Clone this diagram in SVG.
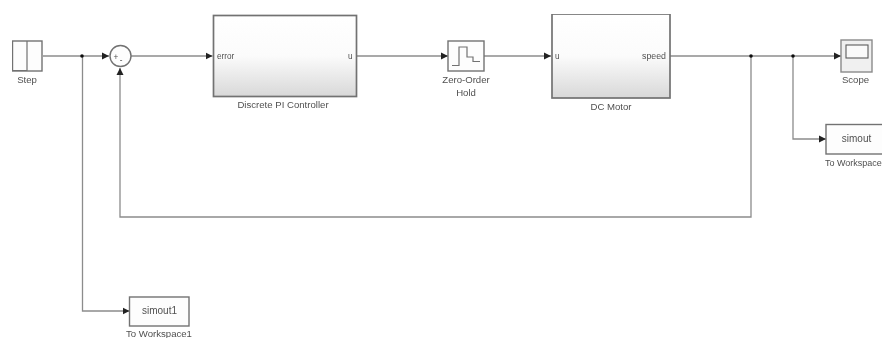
<svg xmlns="http://www.w3.org/2000/svg" width="882" height="338" viewBox="0 0 882 338">
<defs>
<linearGradient id="g" x1="0" y1="0" x2="0" y2="1"><stop offset="0" stop-color="#ffffff"/><stop offset="0.5" stop-color="#fbfbfb"/><stop offset="1" stop-color="#d8d8d8"/></linearGradient>
<marker id="a" markerUnits="userSpaceOnUse" markerWidth="8" markerHeight="8" refX="7" refY="4" orient="auto"><path d="M0,0.500 L7,4 L0,7.500 Z" fill="#222"/></marker>
<filter id="soft" x="0" y="0" width="1" height="1"><feGaussianBlur stdDeviation="0.5"/></filter>
</defs>
<style>
text{font-family:"Liberation Sans",Arial,sans-serif;font-size:9.6px;fill:#505050}
.p{font-size:8.2px}
.m{font-size:10px}
.n{font-size:9px}
.c{text-anchor:middle}
.w{fill:none;stroke:#8c8c8c;stroke-width:1.3}
.b{fill:#fdfdfd;stroke:#727272;stroke-width:1.4}
.s{fill:url(#g);stroke:#727272;stroke-width:1.7}
.i{fill:none;stroke:#727272;stroke-width:1.2}
.d{fill:#111}
</style>
<rect width="882" height="338" fill="#fff"/>
<g filter="url(#soft)">
<g id="connectors">
<path class="w" d="M43,56H109" marker-end="url(#a)"/>
<path class="w" d="M131,56H212.500" marker-end="url(#a)"/>
<path class="w" d="M356,56H448" marker-end="url(#a)"/>
<path class="w" d="M484,56H551" marker-end="url(#a)"/>
<path class="w" d="M670,56H841" marker-end="url(#a)"/>
<path class="w" d="M793,56V139H826" marker-end="url(#a)"/>
<path class="w" d="M751,56V217H120V68" marker-end="url(#a)"/>
<path class="w" d="M82.500,56V311H129.500" marker-end="url(#a)"/>
<circle class="d" cx="82" cy="56" r="1.8"/>
<circle class="d" cx="751" cy="56" r="1.8"/>
<circle class="d" cx="793" cy="56" r="1.8"/>
</g>
<g id="step">
<rect class="b" x="12.500" y="41" width="29.500" height="30"/>
<path class="i" d="M12.500,70.500H27V41"/>
<text class="c" x="27" y="83">Step</text>
</g>
<g id="sum">
<circle class="b" cx="120.500" cy="56" r="10.500"/>
<text class="p c" x="116" y="60">+</text>
<text class="p c" x="121" y="63">-</text>
</g>
<g id="pi-controller">
<rect class="s" x="213.500" y="15.500" width="143" height="81"/>
<text class="p" x="217" y="59">error</text>
<text class="p" x="348" y="59">u</text>
<text class="c" x="283" y="108">Discrete PI Controller</text>
</g>
<g id="zoh">
<rect class="b" x="448" y="41" width="36" height="30"/>
<path class="i" d="M452,65.500H459V47H467V57H473V61.500H480"/>
<text class="c" x="466" y="83">Zero-Order</text>
<text class="c" x="466" y="96">Hold</text>
</g>
<g id="dc-motor">
<rect class="s" x="552" y="14" width="118" height="84"/>
<text class="p" x="555" y="59">u</text>
<text class="p" x="642" y="59" style="font-size:8.800px">speed</text>
<text class="c" x="611" y="110">DC Motor</text>
</g>
<g id="scope">
<rect x="841" y="40" width="31" height="32" fill="#f0f0f0" stroke="#8a8a8a" stroke-width="1.400"/>
<rect x="846" y="45" width="22" height="13" fill="#fafafa" stroke="#5c5c5c" stroke-width="1.100"/>
<text class="c" x="855.500" y="83">Scope</text>
</g>
<g id="to-workspace">
<rect class="b" x="826" y="124.500" width="60" height="29.500"/>
<text class="m c" x="856.500" y="142">simout</text>
<text class="n" x="825" y="166">To Workspace</text>
</g>
<g id="to-workspace1">
<rect class="b" x="129.500" y="297" width="59.500" height="29"/>
<text class="m c" x="159.500" y="314">simout1</text>
<text class="c" x="159" y="336.500">To Workspace1</text>
</g>
</g>
</svg>
